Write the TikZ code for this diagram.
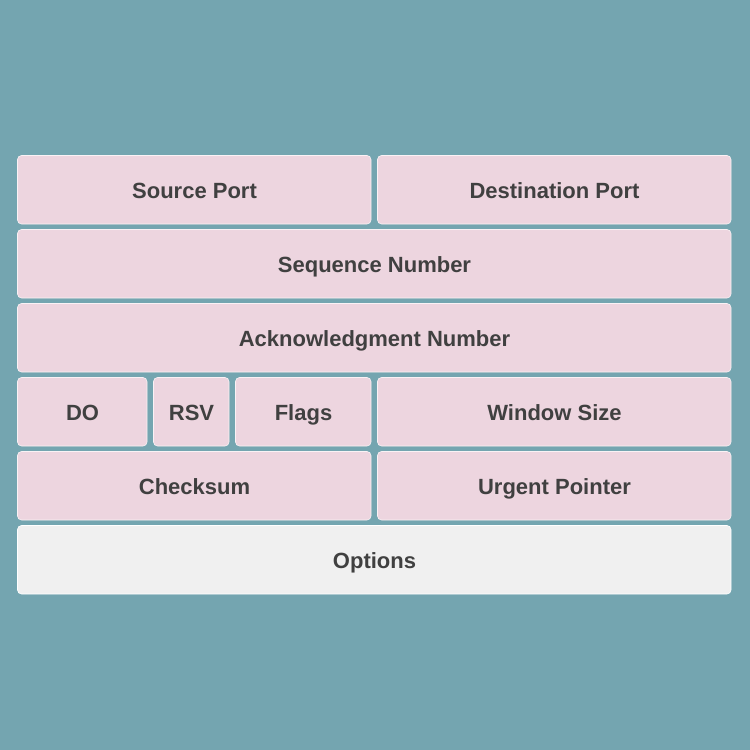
\documentclass[tikz,border=0pt]{standalone}
\usepackage{fontspec}
\setmainfont{Liberation Sans}
\definecolor{bgc}{HTML}{74A5B0}
\definecolor{pinkc}{HTML}{EDD5DF}
\definecolor{greyc}{HTML}{F0F0F0}
\definecolor{txtc}{HTML}{404040}
\tikzset{
  fld/.style={draw=white!70!pinkc, line width=0.6pt, fill=pinkc, rounded corners=4pt},
  opt/.style={draw=white, line width=0.6pt, fill=greyc, rounded corners=4pt},
  lbl/.style={text=txtc, anchor=base, inner sep=0pt, font=\fontsize{22}{26}\selectfont\bfseries},
}
\begin{document}
\begin{tikzpicture}[x=1pt,y=-1pt]
\fill[bgc] (0,0) rectangle (750,750);
\useasboundingbox (0,0) rectangle (750,750);
% row 1
\draw[fld] (17.5,155.5) rectangle (371,224);
\node[lbl] (sp) at (194.5,198) {Source Port};
\draw[fld] (377.5,155.5) rectangle (731,224);
\node[lbl] (dp) at (554.5,198) {Destination Port};
% row 2
\draw[fld] (17.5,229.5) rectangle (731,298);
\node[lbl] (sn) at (374.5,272) {Sequence Number};
% row 3
\draw[fld] (17.5,303.5) rectangle (731,372);
\node[lbl] (an) at (374.5,346) {Acknowledgment Number};
% row 4
\draw[fld] (17.5,377.5) rectangle (147,446);
\node[lbl] (do) at (82.5,420) {DO};
\draw[fld] (153.5,377.5) rectangle (229,446);
\node[lbl] (rsv) at (191.5,420) {RSV};
\draw[fld] (235.5,377.5) rectangle (371,446);
\node[lbl] (fl) at (303.5,420) {Flags};
\draw[fld] (377.5,377.5) rectangle (731,446);
\node[lbl] (ws) at (554.5,420) {Window Size};
% row 5
\draw[fld] (17.5,451.5) rectangle (371,520);
\node[lbl] (ck) at (194.5,494) {Checksum};
\draw[fld] (377.5,451.5) rectangle (731,520);
\node[lbl] (up) at (554.5,494) {Urgent Pointer};
% row 6
\draw[opt] (17.5,525.5) rectangle (731,594);
\node[lbl] (op) at (374.5,568) {Options};
\end{tikzpicture}
\end{document}
